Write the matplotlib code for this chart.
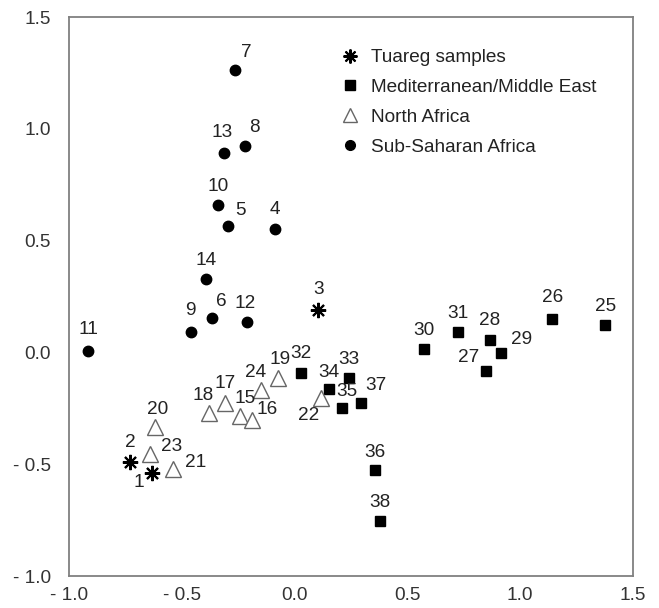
import matplotlib
matplotlib.use("Agg")
import matplotlib.pyplot as plt
from matplotlib.lines import Line2D

plt.rcParams['font.family'] = ['Liberation Sans', 'DejaVu Sans']

# --- DATA ---
tuareg_ids = [1, 2, 3]
tuareg_x = [-0.632, -0.730, 0.105]
tuareg_y = [-0.541, -0.492, 0.190]

med_ids = [25, 26, 27, 28, 29, 30, 31, 32, 33, 34, 35, 36, 37, 38]
med_x = [1.377, 1.142, 0.847, 0.866, 0.916, 0.575, 0.723, 0.028, 0.243, 0.154, 0.211, 0.358, 0.294, 0.379]
med_y = [0.121, 0.149, -0.082, 0.056, -0.001, 0.014, 0.091, -0.091, -0.115, -0.164, -0.247, -0.527, -0.225, -0.753]

nafr_ids = [15, 16, 17, 18, 19, 20, 21, 22, 23, 24]
nafr_x = [-0.242, -0.187, -0.309, -0.378, -0.075, -0.617, -0.538, 0.116, -0.640, -0.149]
nafr_y = [-0.283, -0.302, -0.225, -0.272, -0.113, -0.332, -0.521, -0.205, -0.454, -0.168]

ssa_ids = [4, 5, 6, 7, 8, 9, 10, 11, 12, 13, 14]
ssa_x = [-0.086, -0.295, -0.365, -0.264, -0.220, -0.461, -0.338, -0.916, -0.212, -0.313, -0.391]
ssa_y = [0.552, 0.565, 0.153, 1.263, 0.923, 0.093, 0.659, 0.008, 0.136, 0.892, 0.327]

tick_vals = [-1.0, -0.5, 0.0, 0.5, 1.0, 1.5]
tick_text = ['- 1.0', '- 0.5', '0.0', '0.5', '1.0', '1.5']

# --- LABEL PLACEMENT (pixel offsets from marker, +y = up) ---
DEFAULT_OFFSET = (0, 19)
LABEL_OFFSETS = {
    7: (11, 18), 8: (9, 19), 13: (-2, 20), 5: (12, 16), 6: (9, 17),
    12: (-2, 19), 9: (0, 21), 11: (0, 21), 3: (0, 20), 2: (0, 20),
    1: (-13, -9), 20: (2, 17), 23: (21, 7), 21: (22, 6), 18: (-6, 18),
    15: (5, 17), 16: (15, 10), 24: (-5, 17), 19: (2, 18), 22: (-12, -17),
    34: (0, 17), 35: (5, 16), 37: (15, 17), 29: (20, 13), 27: (-17, 13),
    26: (0, 22), 36: (0, 18), 38: (0, 18),
}

TEXT_COLOR = '#222222'
FRAME_COLOR = '#808080'
FONT_SIZE = 13.7


def label_points(ax, ids, xs, ys):
    for i, x, y in zip(ids, xs, ys):
        dx, dy = LABEL_OFFSETS.get(i, DEFAULT_OFFSET)
        ax.annotate(str(i), (x, y), xytext=(dx * 0.72, dy * 0.72),
                    textcoords='offset points', ha='center', va='center',
                    fontsize=FONT_SIZE, color=TEXT_COLOR)


fig = plt.figure(figsize=(6.59, 6.08), dpi=100)
ax = fig.add_axes([0.1047, 0.0526, 0.8558, 0.9194])

ax.plot(tuareg_x, tuareg_y, linestyle='none', marker=(8, 2, 0), markersize=11,
        markeredgewidth=1.5, color='black')
ax.plot(med_x, med_y, linestyle='none', marker='s', markersize=7.5, color='black')
ax.plot(nafr_x, nafr_y, linestyle='none', marker='^', markersize=11,
        markerfacecolor='white', markeredgecolor='#666666', markeredgewidth=1.0)
ax.plot(ssa_x, ssa_y, linestyle='none', marker='o', markersize=7.5, color='black')

label_points(ax, tuareg_ids, tuareg_x, tuareg_y)
label_points(ax, med_ids, med_x, med_y)
label_points(ax, nafr_ids, nafr_x, nafr_y)
label_points(ax, ssa_ids, ssa_x, ssa_y)

ax.set_xlim(-1.0, 1.5)
ax.set_ylim(-1.0, 1.5)
ax.set_xticks(tick_vals)
ax.set_xticklabels(tick_text)
ax.set_yticks(tick_vals)
ax.set_yticklabels(tick_text)
ax.tick_params(length=0, labelsize=FONT_SIZE, labelcolor='#333333')
ax.tick_params(axis='x', pad=8)
ax.tick_params(axis='y', pad=13)
for sp in ax.spines.values():
    sp.set_color(FRAME_COLOR)
    sp.set_linewidth(1.3)

handles = [
    Line2D([], [], linestyle='none', marker=(8, 2, 0), markersize=10,
           markeredgewidth=1.5, color='black'),
    Line2D([], [], linestyle='none', marker='s', markersize=7, color='black'),
    Line2D([], [], linestyle='none', marker='^', markersize=10,
           markerfacecolor='white', markeredgecolor='#666666'),
    Line2D([], [], linestyle='none', marker='o', markersize=7, color='black'),
]
labels = ['Tuareg samples', 'Mediterranean/Middle East', 'North Africa', 'Sub-Saharan Africa']
leg = ax.legend(handles, labels, loc='upper left', bbox_to_anchor=(0.481, 0.943),
                frameon=False, fontsize=FONT_SIZE, labelspacing=0.66,
                handlelength=1.0, handletextpad=0.6, borderaxespad=0,
                borderpad=0)
for t in leg.get_texts():
    t.set_color(TEXT_COLOR)

plt.savefig('out.png', dpi=100)
